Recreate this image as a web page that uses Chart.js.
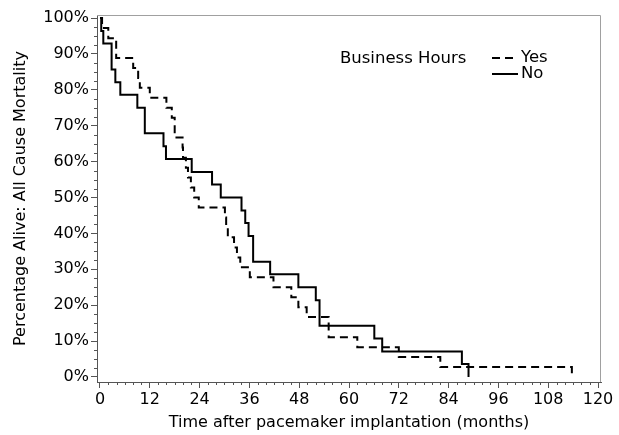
<!DOCTYPE html>
<html>
<head>
<meta charset="utf-8">
<script src="https://cdn.jsdelivr.net/npm/chart.js@4.4.1/dist/chart.umd.min.js"></script>
<style>
html,body{margin:0;padding:0;background:#fff;}
#wrap{width:619px;height:435px;}
</style>
</head>
<body>
<div id="wrap"><canvas id="km" width="619" height="435"></canvas></div>
<script>
/* data (months, % alive) */
let yesTimes=[0,0.5,2.0,3.9,8.0,9.2,9.6,12.0,16.0,17.3,18.0,19.9,20.0,20.7,21.2,21.9,22.7,23.8,30.1,30.4,30.8,32.3,33.0,33.8,36.1,41.8,46.1,47.8,49.8,55.1,62.0,72.0,82.0,113.7];
let yesSurv=[100,97.2,94.4,88.9,86.1,83.3,80.6,77.8,75.0,72.2,66.7,63.9,61.1,58.3,55.6,52.8,50.0,47.2,44.4,41.7,38.9,36.1,33.3,30.6,27.8,25.0,22.2,19.4,16.7,11.1,8.3,5.6,2.8,0];

let noTimes=[0,0.3,0.8,2.8,3.7,4.9,9.0,10.8,15.3,15.9,22.1,27.0,29.1,34.1,35.0,35.8,36.9,41.0,47.8,52.0,52.9,66.1,68.0,87.2,88.8];
let noSurv=[100,96.4,92.9,85.7,82.1,78.6,75.0,67.9,64.3,60.7,57.1,53.6,50.0,46.4,42.9,39.3,32.1,28.6,25.0,21.4,14.3,10.7,7.1,3.6,0];

let xTicks=[0,12,24,36,48,60,72,84,96,108,120];
let yTicks=[0,10,20,30,40,50,60,70,80,90,100];

let legendTitle="Business Hours";
let seriesNames=["Yes","No"];

const FONT="DejaVu Sans";
const AXIS="#555";

function pts(t,s){
return t.map((v,i)=>({x:v,y:s[i]}));
}

/* frame, minor ticks, legend */
const extras={
id:"extras",
beforeDatasetsDraw(chart){
const {ctx,chartArea:a}=chart;
ctx.save();
ctx.strokeStyle="#a0a0a0";
ctx.lineWidth=1;
ctx.beginPath();
ctx.moveTo(a.left,a.top+0.5);
ctx.lineTo(a.right-0.5,a.top+0.5);
ctx.lineTo(a.right-0.5,a.bottom);
ctx.stroke();
ctx.restore();
},
afterDraw(chart){
const {ctx,chartArea:a,scales:{x,y}}=chart;
ctx.save();
ctx.strokeStyle=AXIS;
ctx.lineWidth=1;
ctx.beginPath();
for(let v=0;v<=120;v+=2){
if(v%12===0) continue;
let px=Math.round(x.getPixelForValue(v))+0.5;
ctx.moveTo(px,a.bottom);ctx.lineTo(px,a.bottom+3);
}
for(let v=0;v<=100;v+=2.5){
if(v%10===0) continue;
let py=Math.round(y.getPixelForValue(v))+0.5;
ctx.moveTo(a.left,py);ctx.lineTo(a.left-3,py);
}
ctx.stroke();

// legend
ctx.fillStyle="#000";
ctx.font="16.5px '"+FONT+"'";
ctx.textBaseline="middle";
ctx.fillText(legendTitle,340,59);
ctx.fillText(seriesNames[0],521,58);
ctx.fillText(seriesNames[1],521,74);
ctx.strokeStyle="#000";
ctx.lineWidth=2;
ctx.setLineDash([8,5]);
ctx.beginPath();ctx.moveTo(492,58);ctx.lineTo(518,58);ctx.stroke();
ctx.setLineDash([]);
ctx.beginPath();ctx.moveTo(492,74);ctx.lineTo(518,74);ctx.stroke();
ctx.restore();
}
};

new Chart(document.getElementById("km"),{
type:"line",
data:{
datasets:[
{label:seriesNames[0],data:pts(yesTimes,yesSurv),stepped:true,borderColor:"#000",borderWidth:2,borderDash:[8,5],pointRadius:0,fill:false,borderJoinStyle:"miter"},
{label:seriesNames[1],data:pts(noTimes,noSurv),stepped:true,borderColor:"#000",borderWidth:2,pointRadius:0,fill:false,borderJoinStyle:"miter"}
]
},
options:{
responsive:false,
animation:false,
devicePixelRatio:1,
layout:{padding:{top:15,right:18,left:0,bottom:0}},
plugins:{legend:{display:false},tooltip:{enabled:false}},
scales:{
x:{
type:"linear",
min:-0.72,max:120.72,
afterBuildTicks:s=>{s.ticks=xTicks.map(v=>({value:v}));},
afterFit:s=>{s.height=53;},
ticks:{color:"#000",font:{family:FONT,size:16},padding:2,maxRotation:0,autoSkip:false},
grid:{drawOnChartArea:false,drawTicks:true,tickLength:6,color:AXIS},
border:{display:true,color:AXIS},
title:{display:true,text:"Time after pacemaker implantation (months)",color:"#000",font:{family:FONT,size:16},padding:{top:0,bottom:3}}
},
y:{
type:"linear",
min:-1.4,max:100.85,
afterBuildTicks:s=>{s.ticks=yTicks.map(v=>({value:v}));},
afterFit:s=>{s.width=97;},
ticks:{color:"#000",font:{family:FONT,size:16},padding:2,callback:v=>v+"%"},
grid:{drawOnChartArea:false,drawTicks:true,tickLength:6,color:AXIS},
border:{display:true,color:AXIS},
title:{display:true,text:"Percentage Alive: All Cause Mortality",color:"#000",font:{family:FONT,size:16},padding:{top:11,bottom:0}}
}
}
},
plugins:[extras]
});
</script>
</body>
</html>
